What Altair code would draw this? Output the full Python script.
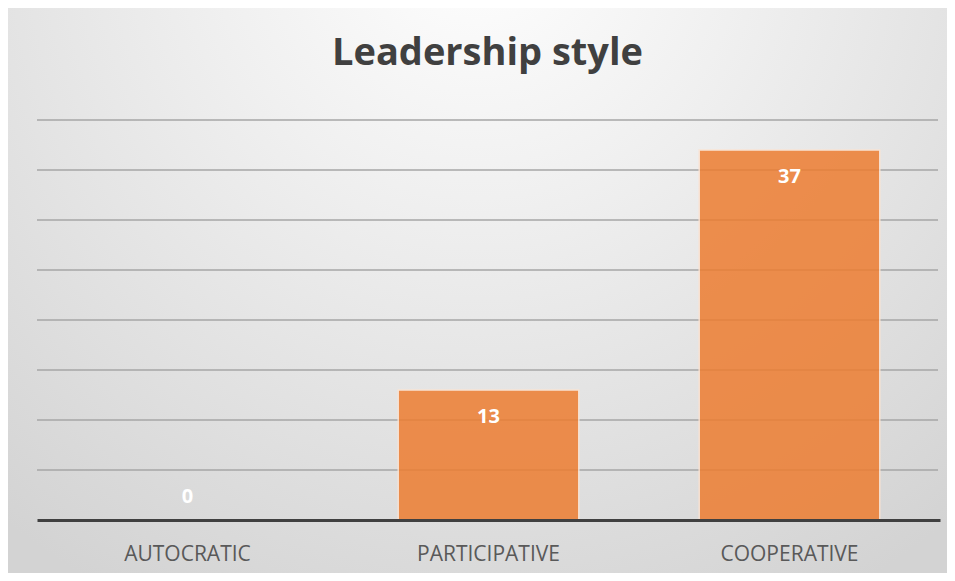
import altair as alt
import pandas as pd

categories = ["AUTOCRATIC", "PARTICIPATIVE", "COOPERATIVE"]
values = [0, 13, 37]
y_ticks = [0, 5, 10, 15, 20, 25, 30, 35, 40]
title_text = "Leadership style"

df = pd.DataFrame({"style": categories, "count": values})
grid_df = pd.DataFrame({"tick": y_ticks[1:]})

W, H = 903, 400
PAD = {"left": 29, "top": 112, "right": 7, "bottom": 53}

bg_grad = {
    "gradient": "radial",
    "x1": 0.5, "y1": 0.12, "r1": 0,
    "x2": 0.5, "y2": 0.12, "r2": 0.8,
    "stops": [
        {"offset": 0, "color": "#ffffff"},
        {"offset": 0.35, "color": "#f0f0f0"},
        {"offset": 1, "color": "#d3d3d3"},
    ],
}

background = alt.Chart(pd.DataFrame({"a": [0]})).mark_rect(fill=bg_grad).encode(
    x=alt.value(-PAD["left"] - 2),
    x2=alt.value(W + PAD["right"] + 2),
    y=alt.value(-PAD["top"]),
    y2=alt.value(H + PAD["bottom"] + 2),
)

y_scale = alt.Scale(domain=[0, 40], nice=False)

gridlines = alt.Chart(grid_df).mark_rule(color="#a6a6a6", strokeWidth=1.5).encode(
    y=alt.Y("tick:Q", scale=y_scale, axis=None),
    x=alt.value(0),
    x2=alt.value(W - 2),
)

x_enc = alt.X(
    "style:N",
    sort=categories,
    scale=alt.Scale(paddingInner=0.4, paddingOuter=0.2),
    axis=alt.Axis(
        title=None,
        labelAngle=0,
        labelFont="Open Sans",
        labelFontSize=21,
        labelColor="#595959",
        labelPadding=23,
        ticks=False,
        domainColor="#404040",
        domainWidth=3,
        grid=False,
        zindex=1,
    ),
)

y_enc = alt.Y("count:Q", scale=y_scale, axis=None)

bars = alt.Chart(df).transform_filter("datum.count > 0").mark_bar(
    color="#ED7D31", opacity=0.85, stroke="#fbe3d2", strokeWidth=1.5
).encode(x=x_enc, y=y_enc)

labels_pos = alt.Chart(df).transform_filter("datum.count > 0").mark_text(
    font="Open Sans", fontWeight="bold", fontSize=20, color="#ffffff",
    baseline="middle", dy=27,
).encode(x=alt.X("style:N", sort=categories), y="count:Q", text="count:Q")

labels_zero = alt.Chart(df).transform_filter("datum.count == 0").mark_text(
    font="Open Sans", fontWeight="bold", fontSize=20, color="#ffffff",
    baseline="middle", dy=-23,
).encode(x=alt.X("style:N", sort=categories), y="count:Q", text="count:Q")

title = alt.Chart(pd.DataFrame({"t": [title_text]})).mark_text(
    font="Open Sans", fontSize=38, fontWeight="bold", color="#404040",
    baseline="alphabetic", align="center",
).encode(x=alt.value(W / 2 - 1), y=alt.value(-55), text="t:N")

chart = alt.layer(background, gridlines, bars, labels_pos, labels_zero, title).properties(
    width=W,
    height=H,
    autosize=alt.AutoSizeParams(type="none"),
    padding=PAD,
).configure_view(stroke=None).configure(background="#ffffff")

chart.save("out.html", embed_options={"renderer": "svg", "actions": False})
